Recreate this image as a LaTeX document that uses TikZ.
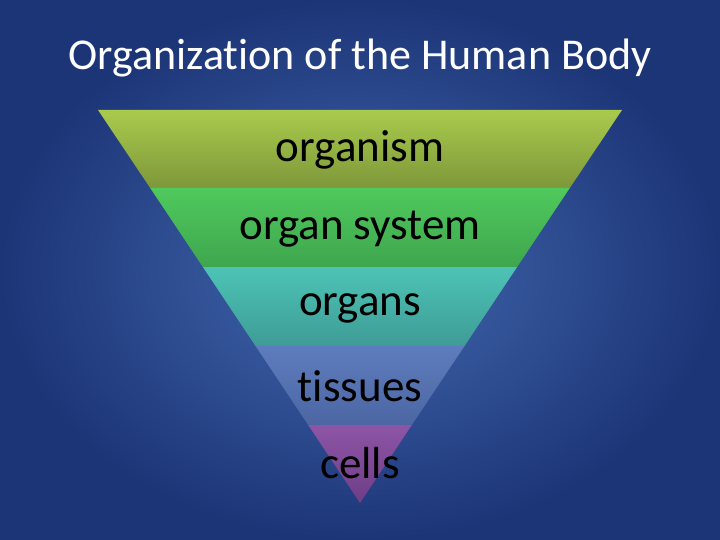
\documentclass[tikz,border=0pt]{standalone}
\usepackage{fontspec}
\setmainfont{Carlito}[Ligatures={NoCommon,NoRequired,NoContextual}]
\definecolor{bgin}{HTML}{4469B0}
\definecolor{bgout}{HTML}{1C3577}
\definecolor{orgtop}{HTML}{A9CB4C}
\definecolor{orgbot}{HTML}{7E973A}
\definecolor{systop}{HTML}{4FC95C}
\definecolor{sysbot}{HTML}{3FA64E}
\definecolor{ornstop}{HTML}{4DC3B6}
\definecolor{ornsbot}{HTML}{3E9C96}
\definecolor{tistop}{HTML}{5E7CBD}
\definecolor{tisbot}{HTML}{4C66A3}
\definecolor{celtop}{HTML}{8E55A6}
\definecolor{celbot}{HTML}{6E3E86}
\begin{document}
\begin{tikzpicture}[x=1pt,y=-1pt]
  \tikzstyle{label}=[text=black,font=\fontsize{45}{50}\selectfont]
  \shade[inner color=bgin,outer color=bgout] (0,0) rectangle (720,540);
  \useasboundingbox (0,0) rectangle (720,540);
  \node[text=white,font=\fontsize{44}{50}\selectfont](title) at (360,58){Organization of the Human Body};
  % bands of the pyramid
  \shade[top color=orgtop,bottom color=orgbot] (98,110) -- (622,110) -- (569.8,188) -- (150.2,188) -- cycle;
  \shade[top color=systop,bottom color=sysbot] (150.2,188) -- (569.8,188) -- (517.1,267) -- (202.9,267) -- cycle;
  \shade[top color=ornstop,bottom color=ornsbot] (202.9,267) -- (517.1,267) -- (464.5,346) -- (255.5,346) -- cycle;
  \shade[top color=tistop,bottom color=tisbot] (255.5,346) -- (464.5,346) -- (411.8,425) -- (308.2,425) -- cycle;
  \shade[top color=celtop,bottom color=celbot] (308.2,425) -- (411.8,425) -- (360,503) -- cycle;
  \node[label](organism) at (360,150){organism};
  \node[label](system) at (360,229){organ system};
  \node[label](organs) at (360,308){organs};
  \node[label](tissues) at (360,386){tissues};
  \node[label](cells) at (360,463){cells};
\end{tikzpicture}
\end{document}
